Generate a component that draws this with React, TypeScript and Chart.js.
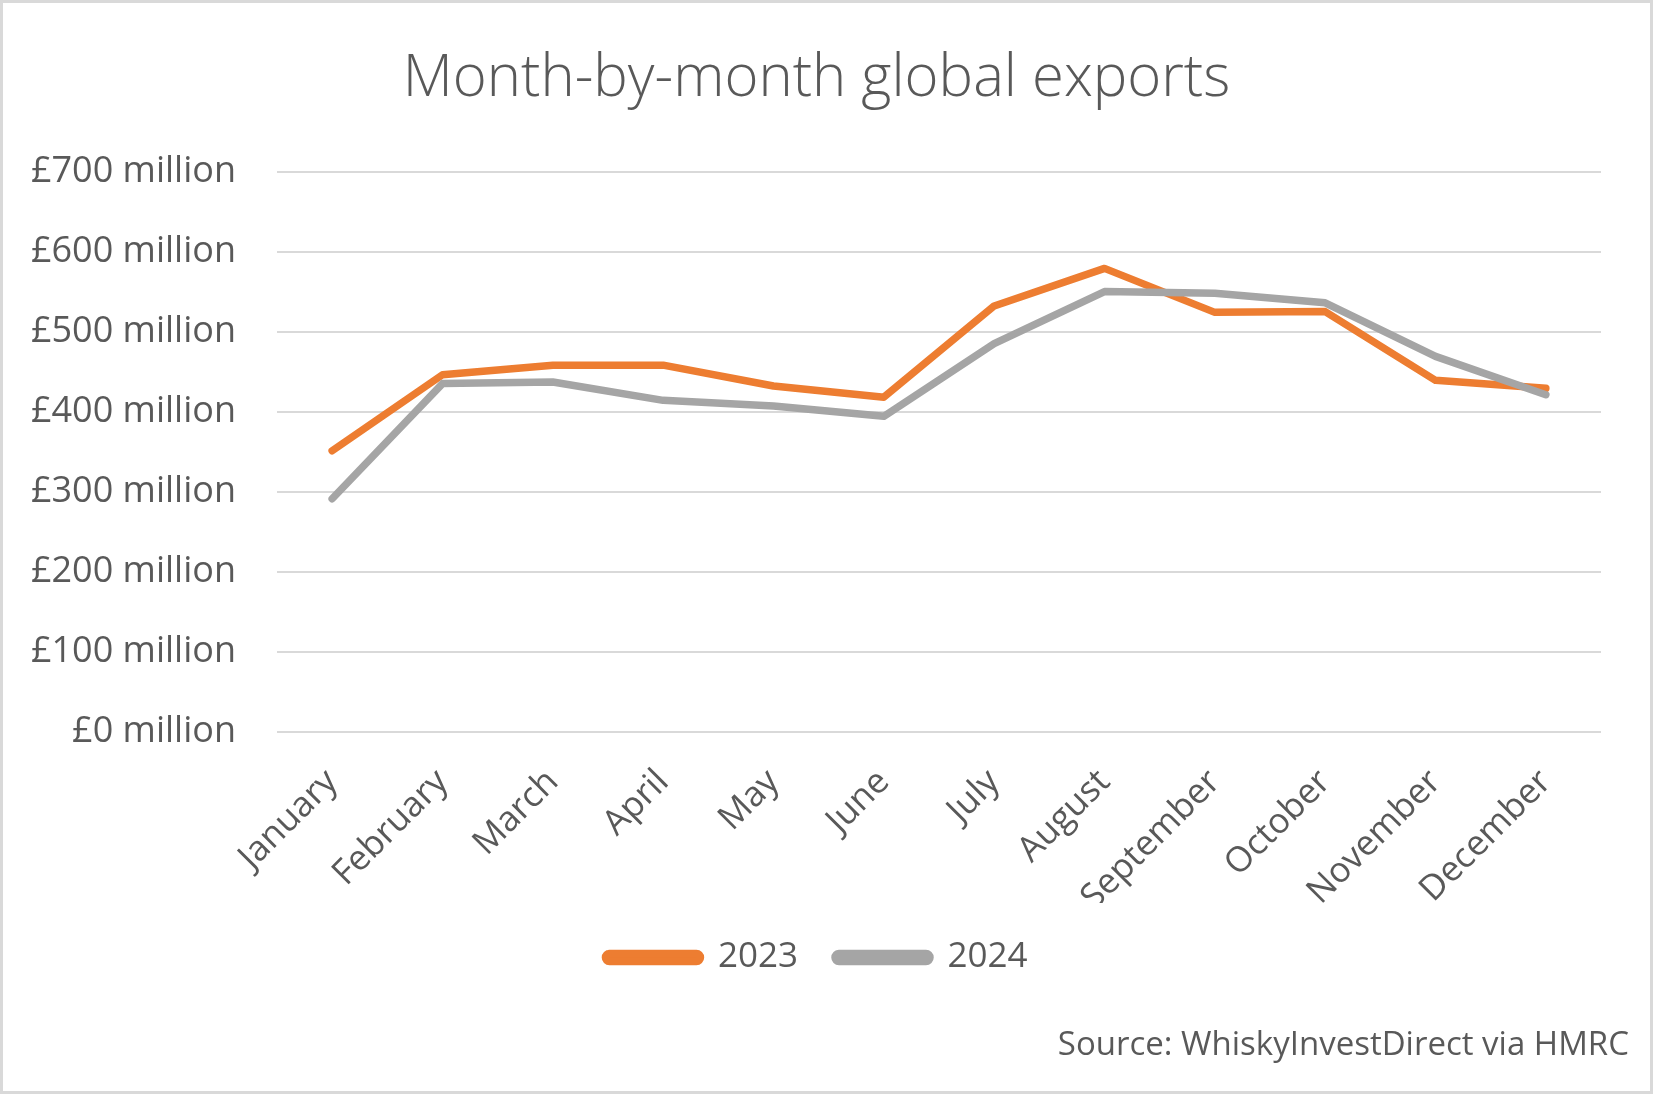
import React, { useEffect, useRef } from "react";
import { Chart, registerables } from "chart.js";

Chart.register(...registerables);

const months = ["January","February","March","April","May","June","July","August","September","October","November","December"];
const exports2023 = [351, 446, 458, 458, 432, 418, 532, 579, 524, 525, 439, 429];
const exports2024 = [291, 435, 437, 414, 407, 394, 485, 550, 548, 536, 469, 421];
const yTickValues = [0, 100, 200, 300, 400, 500, 600, 700];
const titleText = "Month-by-month global exports";
const sourceText = "Source: WhiskyInvestDirect via HMRC";

const TEXT = "#595959";
const FONT = "'Open Sans', 'Liberation Sans', sans-serif";

const sourcePlugin = {
  id: "sourceText",
  afterDraw(chart: any) {
    const ctx = chart.ctx;
    ctx.save();
    ctx.font = `33px ${FONT}`;
    ctx.fillStyle = TEXT;
    ctx.textAlign = "right";
    ctx.textBaseline = "middle";
    ctx.fillText(sourceText, chart.width - 21, 1043);
    ctx.restore();
  },
};

export default function App() {
  const ref = useRef<HTMLCanvasElement | null>(null);
  useEffect(() => {
    if (!ref.current) return;
    const chart = new Chart(ref.current, {
      type: "line",
      data: {
        labels: months,
        datasets: [
          { label: "2023", data: exports2023, borderColor: "#ED7D31", backgroundColor: "#ED7D31", borderWidth: 7.5, pointRadius: 0, tension: 0, borderCapStyle: "round", borderJoinStyle: "round", order: 1 },
          { label: "2024", data: exports2024, borderColor: "#A5A5A5", backgroundColor: "#A5A5A5", borderWidth: 7.5, pointRadius: 0, tension: 0, borderCapStyle: "round", borderJoinStyle: "round", order: 0 },
        ],
      },
      options: {
        responsive: false,
        animation: false,
        layout: { padding: { top: 8, left: 29, right: 49, bottom: 106 } },
        plugins: {
          tooltip: { enabled: false },
          title: {
            display: true,
            text: titleText,
            color: TEXT,
            font: { family: FONT, size: 58, weight: "300" as any },
            padding: { top: 34, bottom: 57 },
          },
          legend: {
            position: "bottom",
            reverse: true,
            labels: {
              color: TEXT,
              font: { family: FONT, size: 35 },
              boxWidth: 95,
              boxHeight: 8,
              useBorderRadius: true,
              borderRadius: 4,
              padding: 37,
            },
          },
        },
        scales: {
          x: {
            offset: true,
            grid: { display: false, drawTicks: false },
            border: { display: false },
            ticks: { color: TEXT, font: { family: FONT, size: 35 }, minRotation: 45, maxRotation: 45, padding: 30, autoSkip: false },
            afterFit: (scale: any) => { scale.paddingLeft = 0; scale.paddingRight = 0; scale.height = 171.5; },
          },
          y: {
            min: 0,
            max: 700,
            afterBuildTicks: (axis: any) => { axis.ticks = yTickValues.map((v) => ({ value: v })); },
            grid: { color: "#D9D9D9", lineWidth: 2, drawTicks: false },
            border: { display: false },
            ticks: { color: TEXT, font: { family: FONT, size: 36 }, padding: 41, callback: (v: any) => `£${v} million` },
            afterFit: (scale: any) => { scale.width = 245; },
          },
        },
      },
      plugins: [sourcePlugin],
    });
    return () => chart.destroy();
  }, []);
  return (
    <div style={{ position: "absolute", left: 0, top: 0, width: 1653, height: 1094, boxSizing: "border-box", border: "3px solid #D9D9D9", background: "#fff" }}>
      <canvas ref={ref} width={1647} height={1088} style={{ display: "block", width: 1647, height: 1088 }} />
    </div>
  );
}
